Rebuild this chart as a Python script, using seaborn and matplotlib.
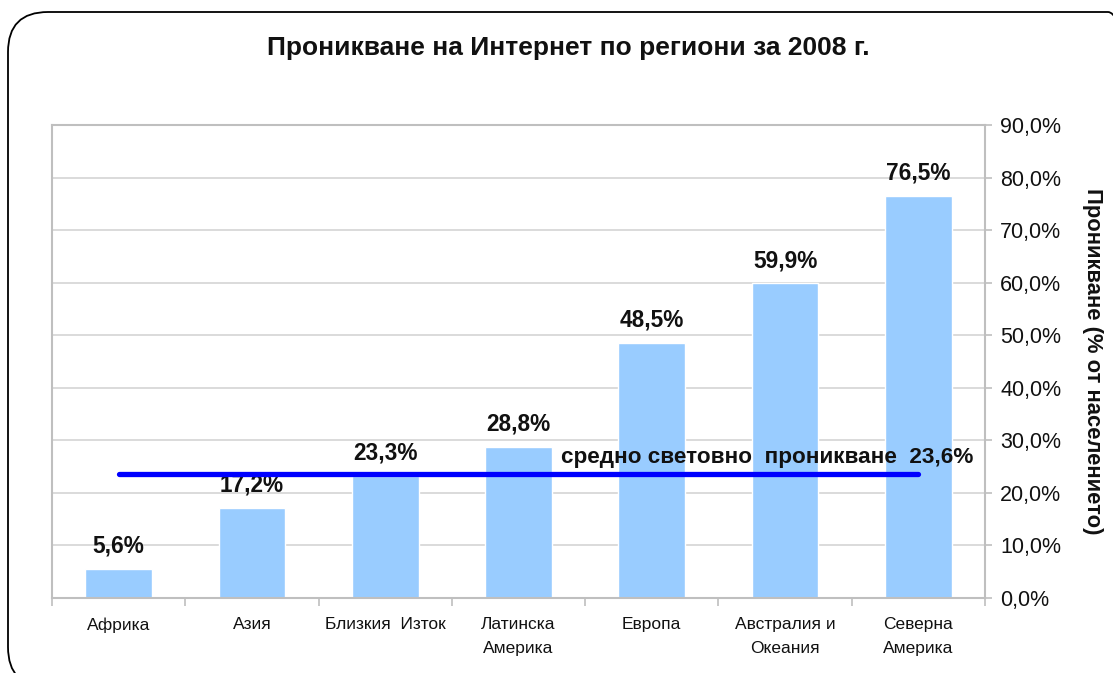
import matplotlib
matplotlib.use("Agg")
import matplotlib.pyplot as plt
import seaborn as sns
import pandas as pd
from matplotlib.patches import FancyBboxPatch
from matplotlib.transforms import IdentityTransform
from matplotlib.ticker import FixedLocator, FuncFormatter

categories = ["Африка", "Азия", "Близкия  Изток", "Латинска\nАмерика", "Европа",
              "Австралия и\nОкеания", "Северна\nАмерика"]
values = [5.6, 17.2, 23.3, 28.8, 48.5, 59.9, 76.5]
world_avg = 23.6
title = "Проникване на Интернет по региони за 2008 г."
ylabel = "Проникване (% от населението)"
avg_label = "средно световно  проникване  23,6%"

sns.set_theme(style="white")
plt.rcParams["font.family"] = ["Liberation Sans", "DejaVu Sans"]

df = pd.DataFrame({"region": categories, "value": values})

W, H = 1113, 673
fig = plt.figure(figsize=(W / 100, H / 100), dpi=100)
ax = fig.add_axes([52/W, 1-598/H, (985-52)/W, (598-125)/H])

sns.barplot(data=df, x="region", y="value", color="#99CCFF", width=0.5,
            saturation=1, ax=ax, zorder=2)

ax.set_ylim(0, 90)
ax.set_xlim(-0.5, len(categories) - 0.5)
ax.yaxis.tick_right()
ax.yaxis.set_label_position("right")
ax.set_yticks(range(0, 91, 10))
ax.yaxis.set_major_formatter(FuncFormatter(lambda v, p: f"{v:.1f}".replace(".", ",") + "%"))
ax.grid(axis="y", color="#D4D4D4", linewidth=1.2, zorder=0)
ax.set_axisbelow(True)
for s in ax.spines.values():
    s.set_color("#BFBFBF")
    s.set_linewidth(1.5)

ax.tick_params(axis="y", which="major", right=True, length=5, width=1.2, color="#BFBFBF",
               labelsize=15.5, pad=6, labelcolor="#111111")
ax.tick_params(axis="x", which="major", bottom=False, labelsize=12.5, pad=8, labelcolor="#111111")
ax.xaxis.set_minor_locator(FixedLocator([i - 0.5 for i in range(len(categories) + 1)]))
ax.tick_params(axis="x", which="minor", bottom=True, length=6, width=1.2, color="#BFBFBF")
for lbl in ax.get_xticklabels():
    lbl.set_linespacing(1.75)

ax.set_xlabel("")
ax.set_ylabel(ylabel, rotation=270, fontsize=15.8, fontweight="bold", labelpad=30, color="#111111")

for i, v in enumerate(values):
    ax.annotate(f"{v:.1f}".replace(".", ",") + "%", (i, v), xytext=(0, 8),
                textcoords="offset points", ha="center", va="bottom",
                fontsize=16.3, fontweight="bold", color="#111111")

ax.plot([0, len(categories) - 1], [world_avg, world_avg], color="#0000FF",
        linewidth=3.8, solid_capstyle="round", zorder=3)
ax.text(3.32, world_avg + 1.2, avg_label, ha="left", va="bottom", fontsize=16.2,
        fontweight="bold", color="#111111", zorder=4)

fig.text(568/W, 1-48/H, title, ha="center", va="center", fontsize=19,
         fontweight="bold", color="#111111")

frame = FancyBboxPatch((8, -14), 1140, H - 12 + 14,
                       boxstyle="round,pad=0,rounding_size=40", transform=IdentityTransform(),
                       facecolor="none", edgecolor="black", linewidth=1.3, clip_on=False)
fig.patches.append(frame)

fig.savefig("out.png", dpi=100)
